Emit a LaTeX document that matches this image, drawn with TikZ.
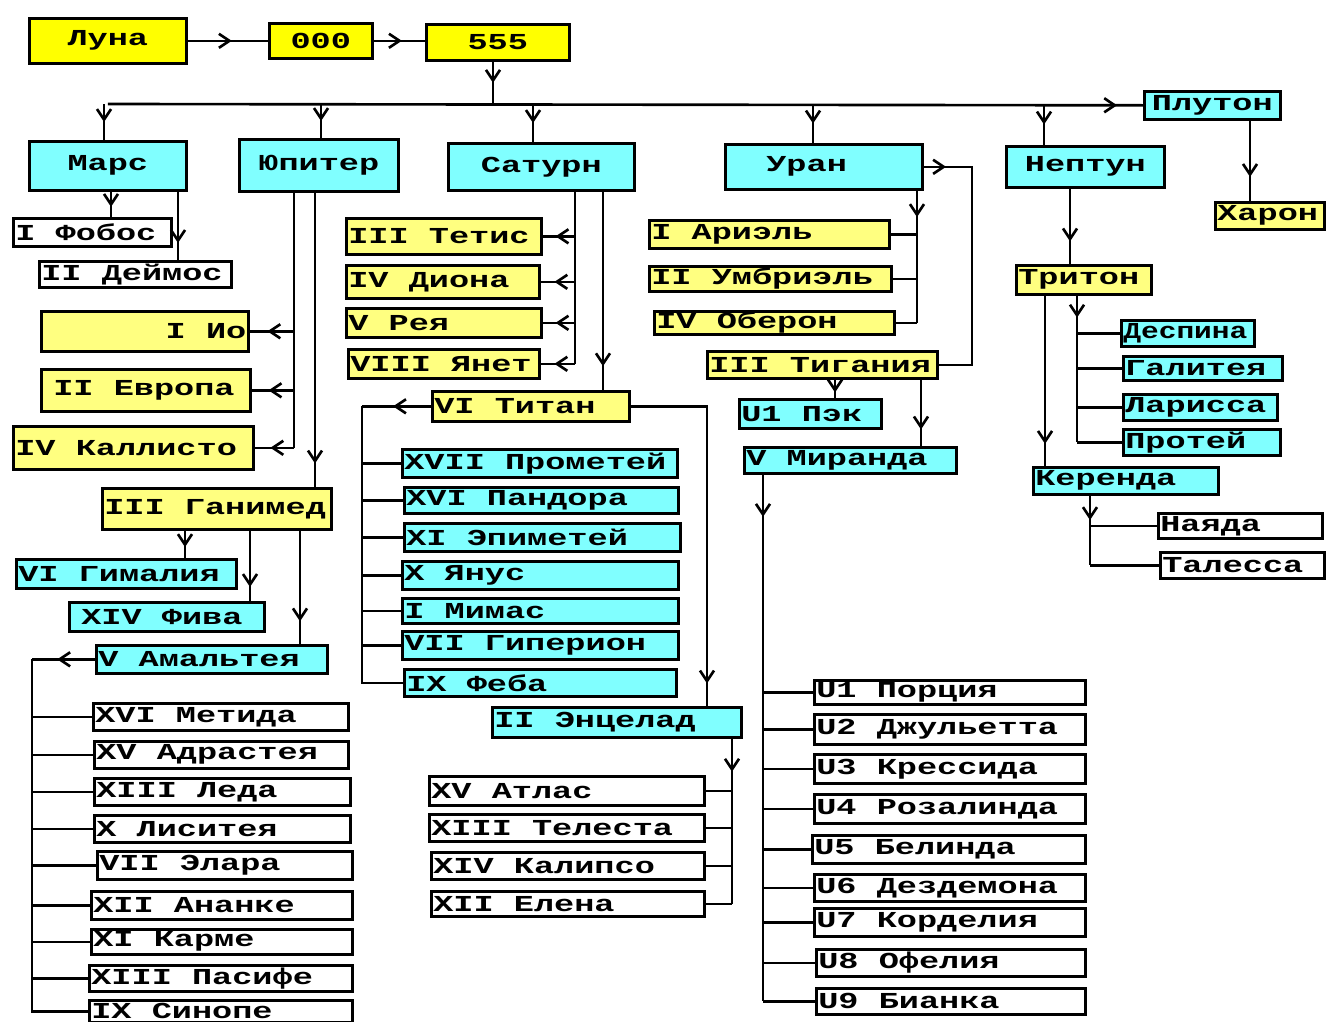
\documentclass[tikz,border=0pt]{standalone}
\usepackage{fontspec}
\usepackage{tikz}
\usetikzlibrary{arrows.meta}
\usetikzlibrary{decorations.markings}
\newfontfamily\moonfont[FakeStretch=1.47]{Liberation Mono}
\definecolor{sunyel}{HTML}{FFFF00}
\definecolor{moonyel}{HTML}{FFFF80}
\definecolor{mooncyan}{HTML}{80FFFF}
\tikzstyle{mbox}=[draw, anchor=north west, inner ysep=0pt, inner xsep=0.04cm,
    execute at begin node={\spaceskip=11.47pt\relax}]
\tikzstyle{lbox}=[mbox, align=flush left,
    execute at begin node={\spaceskip=11.47pt\rightskip=0pt plus 1fil minus 1cm\relax}]
\tikzstyle{sun}=[mbox, fill=sunyel, align=flush center]
\tikzstyle{planet}=[mbox, fill=mooncyan, align=flush center]
\tikzstyle{ymoon}=[lbox, fill=moonyel]
\tikzstyle{cmoon}=[lbox, fill=mooncyan]
\tikzstyle{wmoon}=[lbox, fill=white]
\tikzset{
  bx/.style 2 args={text width=#1*0.02cm-0.08cm, minimum height=#2*0.02cm},
  marr/.style={postaction={decorate, decoration={markings,
      mark=at position #1 with {\arrow{Straight Barb[length=6pt, width=8pt]}}}}},
  marr/.default=0.55
}

\begin{document}
\begin{tikzpicture}[x=0.02cm, y=-0.02cm, line width=1.5pt,
    font=\moonfont\bfseries\fontsize{13pt}{15pt}\selectfont]
    \path[use as bounding box, fill=white] (0,0) rectangle (1327,1021);
    % sun and planets
    \node[sun, bx={157}{45}] (luna) at (28,17) {Луна};
    \node[sun, bx={103}{35}] (n000) at (268,22) {000};
    \node[sun, bx={143}{36}] (n555) at (425,23) {555};
    \node[planet, bx={157}{49}] (mars) at (28,140) {Марс};
    \node[planet, bx={159}{52}] (jupiter) at (238,138) {Юпитер};
    \node[planet, bx={186}{47}] (saturn) at (447,142) {Сатурн};
    \node[planet, bx={197}{45}, align=flush left] (uranus) at (724,143) {\mbox{\kern0.78cm}Уран};
    \node[planet, bx={158}{41}] (neptune) at (1005,145) {Нептун};
    \node[planet, bx={136}{28}] (pluto) at (1143,90) {Плутон};
    \node[ymoon, bx={109}{27}] (charon) at (1214,201) {Харон};
    % Mars
    \node[wmoon, bx={158}{28}] (phobos) at (12,217) {I Фобос};
    \node[wmoon, bx={192}{26}] (deimos) at (38,260) {II Деймос};
    % Jupiter
    \node[mbox, fill=moonyel, bx={207}{40}, align=flush right] (io) at (40,310) {I Ио};
    \node[ymoon, bx={209}{42}] (europa) at (40,368) {\mbox{\kern5.7pt}II Европа};
    \node[ymoon, bx={240}{43}] (callisto) at (12,425) {IV Каллисто};
    \node[ymoon, bx={229}{41}] (ganymede) at (101,487) {III Ганимед};
    \node[cmoon, bx={220}{29}] (himalia) at (15,558) {VI Гималия};
    \node[cmoon, bx={195}{29}] (thebe) at (68,601) {\mbox{\kern5.7pt}XIV Фива};
    \node[cmoon, bx={231}{28}] (amalthea) at (95,644) {V Амальтея};
    \foreach \nm/\x/\y/\w/\h/\txt in {metis/92/702/255/27/XVI Метида,
        adrastea/93/740/254/27/XV Адрастея, leda/93/777/256/27/XIII Леда,
        lysithea/93/814/256/27/X Лиситея, elara/96/850/255/28/VII Элара,
        ananke/90/890/261/28/XII Ананке, carme/90/928/261/25/XI Карме,
        pasiphae/88/964/263/26/XIII Пасифе, sinope/88/999/263/22/IX Синопе}
        \node[wmoon, bx={\w}{\h}] (\nm) at (\x,\y) {\txt};
    % Saturn
    \foreach \nm/\x/\y/\w/\h/\txt in {tethys/345/217/195/36/III Тетис,
        dione/345/264/193/33/IV Диона, rhea/345/307/195/29/V Рея,
        yanet/347/348/191/29/VIII Янет}
        \node[ymoon, bx={\w}{\h}] (\nm) at (\x,\y) {\txt};
    \node[ymoon, bx={197}{30}] (titan) at (431,390) {VI Титан};
    \foreach \nm/\x/\y/\w/\h/\txt in {prometheus/401/448/275/28/XVII Прометей,
        pandora/403/486/274/26/XVI Пандора, epimetheus/403/522/276/28/XI Эпиметей,
        janus/401/560/276/28/X Янус, mimas/401/597/276/25/I Мимас,
        hyperion/401/630/276/28/VII Гиперион, phoebe/403/668/272/27/IX Феба,
        enceladus/491/706/249/30/II Энцелад}
        \node[cmoon, bx={\w}{\h}] (\nm) at (\x,\y) {\txt};
    \foreach \nm/\x/\y/\w/\h/\txt in {atlas/428/775/275/29/XV Атлас,
        telesto/428/813/275/27/XIII Телеста, calypso/430/851/273/27/XIV Калипсо,
        helene/430/890/273/25/XII Елена}
        \node[wmoon, bx={\w}{\h}] (\nm) at (\x,\y) {\txt};
    % Uranus
    \foreach \nm/\x/\y/\w/\h/\txt in {ariel/648/219/240/28/I Ариэль,
        umbriel/648/265/242/25/II Умбриэль, oberon/653/310/240/23/IV Оберон,
        titania/706/350/230/27/III Тигания}
        \node[ymoon, bx={\w}{\h}] (\nm) at (\x,\y) {\txt};
    \node[cmoon, bx={142}{29}] (puck) at (738,398) {U1 Пэк};
    \node[cmoon, bx={212}{26}] (miranda) at (743,446) {V Миранда};
    \foreach \nm/\x/\y/\w/\h/\txt in {portia/813/679/271/24/U1 Порция,
        juliet/813/713/271/30/U2 Джульетта, cressida/813/753/271/29/U3 Крессида,
        rosalind/813/793/271/29/U4 Розалинда, belinda/811/834/273/28/U5 Белинда,
        desdemona/813/873/271/27/U6 Дездемона, cordelia/813/907/271/28/U7 Корделия,
        ophelia/815/948/269/27/U8 Офелия, bianca/815/987/269/26/U9 Бианка}
        \node[wmoon, bx={\w}{\h}] (\nm) at (\x,\y) {\txt};
    % Neptune
    \node[ymoon, bx={135}{29}] (triton) at (1015,264) {Тритон};
    \node[cmoon, bx={133}{26}] (despina) at (1120,319) {\scalebox{0.88}[1]{Деспина}};
    \foreach \nm/\x/\y/\w/\h/\txt in {galatea/1122/355/159/24/Галитея,
        larissa/1122/393/154/26/Ларисса, proteus/1122/428/157/26/Протей,
        kerenda/1032/466/185/27/Керенда}
        \node[cmoon, bx={\w}{\h}] (\nm) at (\x,\y) {\txt};
    \node[wmoon, bx={164}{25}] (naiad) at (1157,512) {Наяда};
    \node[wmoon, bx={164}{26}] (thalassa) at (1159,551) {Талесса};

    % top chain and bus
    \coordinate (bus) at (493,104);
    \draw[marr] (luna) -- (n000);
    \draw[marr] (n000) -- (n555.west |- n000.east);
    \draw[marr=0.5] (n555.south -| bus) -- (bus);
    \draw[marr=0.975] (mars.north |- bus) -- (pluto.west);
    \foreach \nm/\x in {mars/104, jupiter/321, saturn/533, uranus/813, neptune/1044}
        \draw[marr=0.5] (bus -| \x,0) -- (\nm.north -| \x,0);
    \draw[marr=0.7] (pluto.south -| 1250,0) -- (charon.north -| 1250,0);
    % Mars
    \draw[marr=0.6] (mars.south -| 111,0) -- (phobos.north -| 111,0);
    \draw[marr=0.75] (mars.south -| 178,0) -- (deimos.north -| 178,0);
    % Jupiter
    \draw (jupiter.south -| 294,0) -- (callisto.east -| 294,0);
    \foreach \nm in {io, europa, callisto}
        \draw[marr=0.6] (\nm.east -| 294,0) -- (\nm.east);
    \draw[marr=0.92] (jupiter.south -| 315,0) -- (ganymede.north -| 315,0);
    \draw[marr=0.6] (ganymede.south -| 185,0) -- (himalia.north -| 185,0);
    \draw[marr=0.8] (ganymede.south -| 250,0) -- (thebe.north -| 250,0);
    \draw[marr=0.8] (ganymede.south -| 300,0) -- (amalthea.north -| 300,0);
    \draw[marr=0.6] (amalthea.west) -- (amalthea.west -| 32,0);
    \draw (amalthea.west -| 32,0) |- (sinope.west);
    \foreach \nm in {metis, adrastea, leda, lysithea, elara, ananke, carme, pasiphae}
        \draw (\nm.west -| 32,0) -- (\nm.west);
    % Saturn
    \draw (saturn.south -| 575,0) -- (yanet.east -| 575,0);
    \foreach \nm in {tethys, dione, rhea, yanet}
        \draw[marr=0.6] (\nm.east -| 575,0) -- (\nm.east);
    \draw[marr=0.88] (saturn.south -| 603,0) -- (titan.north -| 603,0);
    \draw[marr=0.55] (titan.west) -- (titan.west -| 362,0);
    \draw (titan.west -| 362,0) |- (phoebe.west);
    \foreach \nm in {prometheus, pandora, epimetheus, janus, mimas, hyperion}
        \draw (\nm.west -| 362,0) -- (\nm.west);
    \draw[marr=0.94] (titan.east) -| (enceladus.north -| 707,0);
    \draw[marr=0.2] (enceladus.south -| 732,0) -- (helene.east -| 732,0);
    \foreach \nm in {atlas, telesto, calypso, helene}
        \draw (\nm.east -| 732,0) -- (\nm.east);
    % Uranus
    \draw[marr=0.08] (uranus.east) -| (titania.east -| 972,0) -- (titania.east);
    \draw[marr=0.2] (uranus.south -| 917,0) -- (oberon.east -| 917,0);
    \foreach \nm in {ariel, umbriel, oberon}
        \draw (\nm.east -| 917,0) -- (\nm.east);
    \draw[marr=0.7] (titania.south -| 835,0) -- (puck.north -| 835,0);
    \draw[marr=0.75] (titania.south -| 921,0) -- (miranda.north -| 921,0);
    \draw[marr=0.08] (miranda.south -| 763,0) -- (bianca.west -| 763,0);
    \foreach \nm in {portia, juliet, cressida, rosalind, belinda, desdemona, cordelia, ophelia}
        \draw (\nm.west -| 763,0) -- (\nm.west);
    \draw (bianca.west -| 763,0) -- (bianca.west);
    % Neptune
    \draw[marr=0.7] (neptune.south -| 1070,0) -- (triton.north -| 1070,0);
    \draw[marr=0.87] (triton.south -| 1045,0) -- (kerenda.north -| 1045,0);
    \draw[marr=0.15] (triton.south -| 1077,0) -- (proteus.west -| 1077,0);
    \foreach \nm in {despina, galatea, larissa, proteus}
        \draw (\nm.west -| 1077,0) -- (\nm.west);
    \draw[marr=0.35] (kerenda.south -| 1090,0) -- (thalassa.west -| 1090,0);
    \foreach \nm in {naiad, thalassa}
        \draw (\nm.west -| 1090,0) -- (\nm.west);
\end{tikzpicture}
\end{document}
